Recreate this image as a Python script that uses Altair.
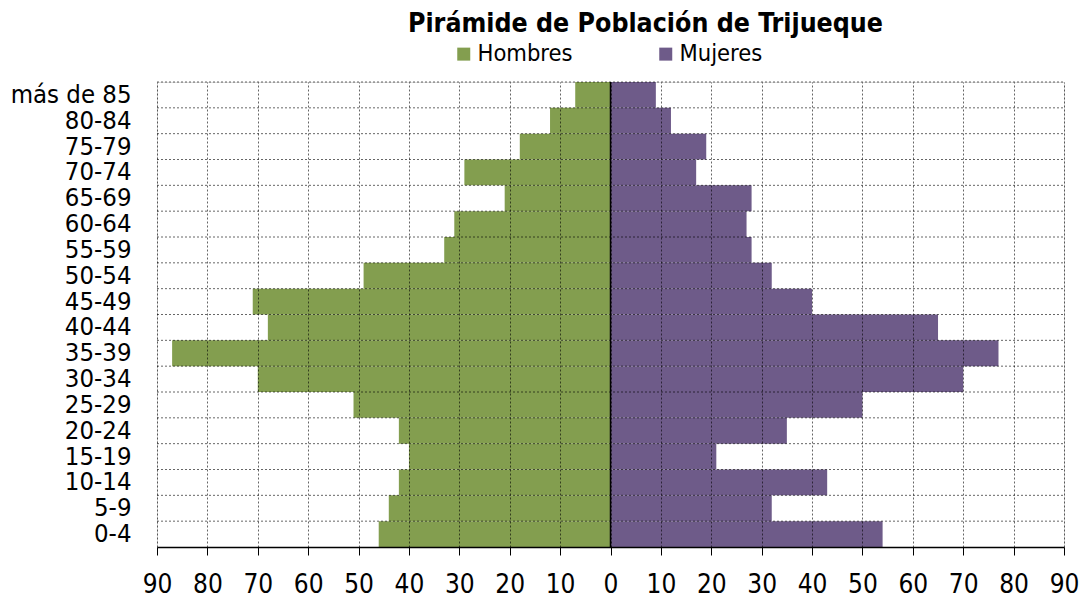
import altair as alt
import pandas as pd

ages = ["más de 85", "80-84", "75-79", "70-74", "65-69", "60-64", "55-59",
        "50-54", "45-49", "40-44", "35-39", "30-34", "25-29", "20-24",
        "15-19", "10-14", "5-9", "0-4"]
hombres = [7, 12, 18, 29, 21, 31, 33, 49, 71, 68, 87, 70, 51, 42, 40, 42, 44, 46]
mujeres = [9, 12, 19, 17, 28, 27, 28, 32, 40, 65, 77, 70, 50, 35, 21, 43, 32, 54]
series = ["Hombres", "Mujeres"]
colors = ["#839E4F", "#6E5B89"]
tick_values = list(range(-90, 100, 10))

rows = []
for a, h, m in zip(ages, hombres, mujeres):
    rows.append({"edad": a, "sexo": "Hombres", "valor": h})
    rows.append({"edad": a, "sexo": "Mujeres", "valor": m})
df = pd.DataFrame(rows)

W, H = 907, 465
FONT = "DejaVu Sans Condensed, DejaVu Sans"

yscale = alt.Scale(domain=ages, paddingInner=0, paddingOuter=0)
xscale = alt.Scale(domain=[-90, 90], nice=False, zero=False)

xaxis = alt.Axis(
    values=tick_values, labelExpr="abs(datum.value)", title=None,
    grid=True, gridDash=[2, 2], gridColor="#000", gridOpacity=0.6,
    domainColor="#000", domainWidth=1.5, tickColor="#000", tickSize=8,
    labelFontSize=26, labelColor="#000", labelPadding=16, zindex=1,
    labelFont=FONT, labelFlush=False, labelOverlap=False, labelBound=False)
yaxis = alt.Axis(
    title=None, ticks=False, tickSize=0, domain=False, grid=False,
    labelFontSize=25.5, labelColor="#000", labelPadding=26, labelFont=FONT,
    labelLimit=300, labelOverlap=False)

bars = alt.Chart(df).transform_calculate(
    x="datum.sexo == 'Hombres' ? -datum.valor : datum.valor"
).mark_bar(opacity=1).encode(
    x=alt.X("x:Q", scale=xscale, axis=xaxis),
    y=alt.Y("edad:N", scale=yscale, sort=ages, axis=yaxis),
    color=alt.Color("sexo:N", scale=alt.Scale(domain=series, range=colors),
                    legend=alt.Legend(
                        title=None, orient="none", direction="horizontal",
                        legendX=295, legendY=-40, symbolType="square",
                        symbolSize=169, symbolStrokeWidth=0, symbolOpacity=1,
                        labelFontSize=23.5, labelFont=FONT, labelColor="#000",
                        labelOffset=2, columnPadding=81)),
)

hgrid = alt.Chart(pd.DataFrame({"edad": ages})).mark_rule(
    color="#000", strokeDash=[2, 2], opacity=0.6, strokeWidth=1
).encode(
    y=alt.Y("edad:N", scale=yscale, sort=ages, bandPosition=0, axis=yaxis),
    x=alt.value(0), x2=alt.value(W),
)

zero = alt.Chart(pd.DataFrame({"x": [0]})).mark_rule(
    color="#000", strokeWidth=1.5
).encode(x=alt.X("x:Q", scale=xscale, axis=xaxis))

chart = alt.layer(bars, hgrid, zero).properties(
    width=W, height=H,
    title=alt.Title("Pirámide de Población de Trijueque", fontSize=26.5,
                    fontWeight="bold", font=FONT, color="#000",
                    anchor="middle", dx=35, offset=11, dy=27,
                    baseline="alphabetic"),
    padding={"left": 149, "top": 74, "right": 15, "bottom": 60},
    autosize=alt.AutoSizeParams(type="none"),
).configure_view(stroke="#8a8a8a", strokeWidth=2).configure(font=FONT)

chart.save("out.html", embed_options={"renderer": "svg", "actions": False})
